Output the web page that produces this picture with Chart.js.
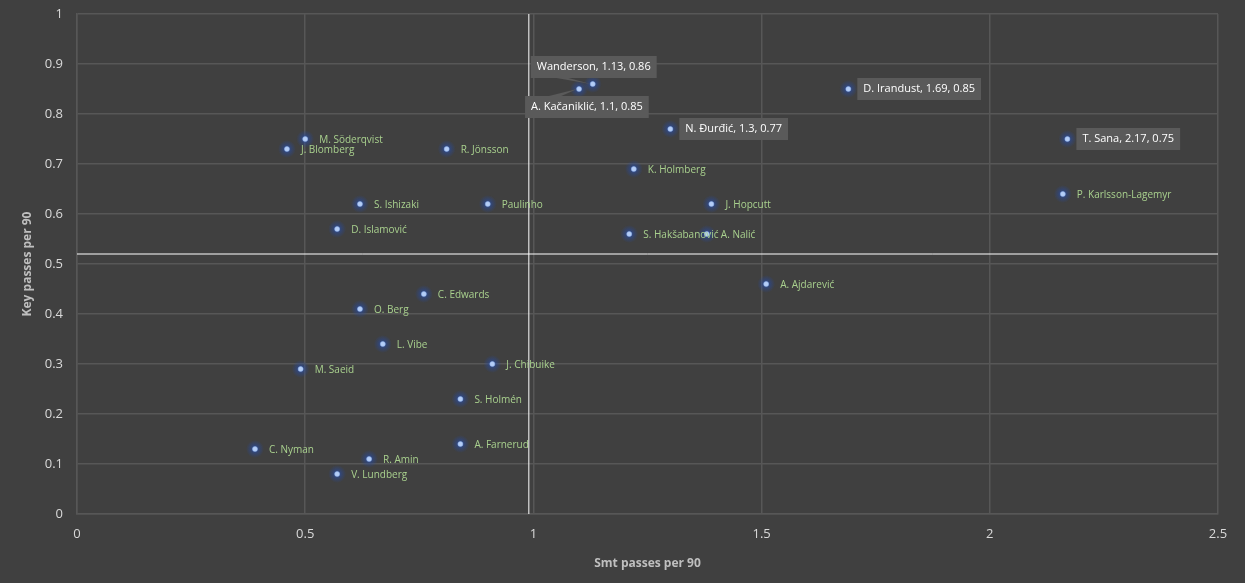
<!DOCTYPE html>
<html lang="en">
<head>
<meta charset="UTF-8">
<title>Smt passes vs key passes</title>
<script src="https://cdn.jsdelivr.net/npm/chart.js"></script>
<style>
  html, body { margin: 0; padding: 0; background: #404040; }
  #wrap { width: 1245px; height: 583px; }
</style>
</head>
<body>
<div id="wrap"><canvas id="grafico"></canvas></div>
<script>
// players, smart passes per 90, key passes per 90
const players = ["Wanderson", "A. Kačaniklić", "D. Irandust", "N. Đurđić", "T. Sana",
  "M. Söderqvist", "J. Blomberg", "R. Jönsson", "K. Holmberg", "S. Ishizaki",
  "Paulinho", "J. Hopcutt", "P. Karlsson-Lagemyr", "D. Islamović", "S. Hakšabanović",
  "A. Nalić", "A. Ajdarević", "C. Edwards", "O. Berg", "L. Vibe",
  "M. Saeid", "J. Chibuike", "S. Holmén", "A. Farnerud", "C. Nyman",
  "R. Amin", "V. Lundberg"];
const smtPasses = [1.13, 1.1, 1.69, 1.3, 2.17,
  0.5, 0.46, 0.81, 1.22, 0.62,
  0.9, 1.39, 2.16, 0.57, 1.21,
  1.38, 1.51, 0.76, 0.62, 0.67,
  0.49, 0.91, 0.84, 0.84, 0.39,
  0.64, 0.57];
const keyPasses = [0.86, 0.85, 0.85, 0.77, 0.75,
  0.75, 0.73, 0.73, 0.69, 0.62,
  0.62, 0.62, 0.64, 0.57, 0.56,
  0.56, 0.46, 0.44, 0.41, 0.34,
  0.29, 0.30, 0.23, 0.14, 0.13,
  0.11, 0.08];
// players shown with value callouts
const highlighted = ["Wanderson", "A. Kačaniklić", "D. Irandust", "N. Đurđić", "T. Sana"];
// average lines
const avgSmt = 0.99;
const avgKey = 0.52;
const xTicks = [0, 0.5, 1, 1.5, 2, 2.5];
const yTicks = [0, 0.1, 0.2, 0.3, 0.4, 0.5, 0.6, 0.7, 0.8, 0.9, 1];

const pontos = players.map((p, i) => ({ x: smtPasses[i], y: keyPasses[i] }));

// glow behind the dots
const glowPlugin = {
  id: "glow",
  beforeDatasetDraw(chart, args) {
    if (args.index !== 2) return;
    const ctx = chart.ctx;
    const meta = chart.getDatasetMeta(2);
    meta.data.forEach(pt => {
      const g = ctx.createRadialGradient(pt.x, pt.y, 0, pt.x, pt.y, 9);
      g.addColorStop(0, "rgba(45,90,190,0.85)");
      g.addColorStop(0.5, "rgba(40,75,160,0.45)");
      g.addColorStop(1, "rgba(40,75,160,0)");
      ctx.fillStyle = g;
      ctx.beginPath();
      ctx.arc(pt.x, pt.y, 9, 0, Math.PI * 2);
      ctx.fill();
    });
  }
};

// callout boxes (dx, dy of box left/center from point)
const calloutPos = {
  "Wanderson": { dx: -62, dy: -17 },
  "A. Kačaniklić": { dx: -54, dy: 18 },
  "D. Irandust": { dx: 9, dy: 0 },
  "N. Đurđić": { dx: 9, dy: 0 },
  "T. Sana": { dx: 9, dy: 0 }
};

const labelPlugin = {
  id: "rotulos",
  afterDatasetsDraw(chart) {
    const ctx = chart.ctx;
    const meta = chart.getDatasetMeta(2);
    ctx.save();
    ctx.textBaseline = "middle";
    meta.data.forEach((pt, i) => {
      const nome = players[i];
      if (highlighted.includes(nome)) {
        const txt = nome + ", " + smtPasses[i] + ", " + keyPasses[i];
        ctx.font = "11px 'Open Sans'";
        const w = ctx.measureText(txt).width + 12;
        const pos = calloutPos[nome];
        const bx = pt.x + pos.dx;
        const by = pt.y + pos.dy;
        ctx.fillStyle = "#5a5a5a";
        if (pos.dx < 0) {
          ctx.beginPath();
          ctx.moveTo(pt.x - 2, pt.y);
          ctx.lineTo(bx + 20, by + (pos.dy < 0 ? 10 : -10));
          ctx.lineTo(bx + 34, by + (pos.dy < 0 ? 10 : -10));
          ctx.closePath();
          ctx.fill();
        }
        ctx.fillRect(bx, by - 11, w, 22);
        ctx.fillStyle = "#ffffff";
        ctx.fillText(txt, bx + 6, by);
      } else {
        ctx.font = "10px 'Open Sans'";
        ctx.fillStyle = "#a9d18e";
        ctx.fillText(nome, pt.x + 14, pt.y + 1);
      }
    });
    ctx.restore();
  }
};

const fmt = v => String(Number(v.toFixed(2)));

const ctx = document.getElementById("grafico").getContext("2d");
new Chart(ctx, {
  type: "scatter",
  data: {
    datasets: [
      {
        type: "line",
        data: [{ x: avgSmt, y: 0 }, { x: avgSmt, y: 1 }],
        borderColor: "#ffffff",
        borderWidth: 1,
        pointRadius: 0
      },
      {
        type: "line",
        data: [{ x: 0, y: avgKey }, { x: 2.5, y: avgKey }],
        borderColor: "#ffffff",
        borderWidth: 1,
        pointRadius: 0
      },
      {
        data: pontos,
        backgroundColor: "#b4cdf6",
        borderColor: "#8fb0ea",
        borderWidth: 0.5,
        pointRadius: 2.5,
        pointHoverRadius: 2.5
      }
    ]
  },
  options: {
    responsive: true,
    maintainAspectRatio: false,
    animation: false,
    layout: { padding: { top: 14, right: 27, left: 0, bottom: 0 } },
    plugins: {
      legend: { display: false },
      tooltip: { enabled: false }
    },
    scales: {
      x: {
        type: "linear",
        min: 0,
        max: 2.5,
        afterBuildTicks: s => { s.ticks = xTicks.map(v => ({ value: v })); },
        afterFit: s => { s.height = 69; s.paddingLeft = 0; s.paddingRight = 0; },
        grid: { color: "#575757", drawTicks: false, lineWidth: 1.5 },
        border: { color: "#575757", width: 1.5 },
        ticks: { color: "#d9d9d9", font: { family: "Open Sans", size: 13 }, padding: 12, callback: fmt },
        title: {
          display: true,
          text: "Smt passes per 90",
          color: "#bfbfbf",
          font: { family: "Open Sans", size: 12, weight: "bold" },
          padding: { top: 6, bottom: 12 }
        }
      },
      y: {
        type: "linear",
        min: 0,
        max: 1,
        afterBuildTicks: s => { s.ticks = yTicks.map(v => ({ value: v })); },
        afterFit: s => { s.width = 77; s.paddingTop = 0; s.paddingBottom = 0; },
        grid: { color: "#575757", drawTicks: false, lineWidth: 1.5 },
        border: { color: "#575757", width: 1.5 },
        ticks: { color: "#d9d9d9", font: { family: "Open Sans", size: 13 }, padding: 14, callback: fmt },
        title: {
          display: true,
          text: "Key passes per 90",
          color: "#bfbfbf",
          font: { family: "Open Sans", size: 12, weight: "bold" },
          padding: { top: 20, bottom: 0 }
        }
      }
    }
  },
  plugins: [glowPlugin, labelPlugin]
});
</script>
</body>
</html>
